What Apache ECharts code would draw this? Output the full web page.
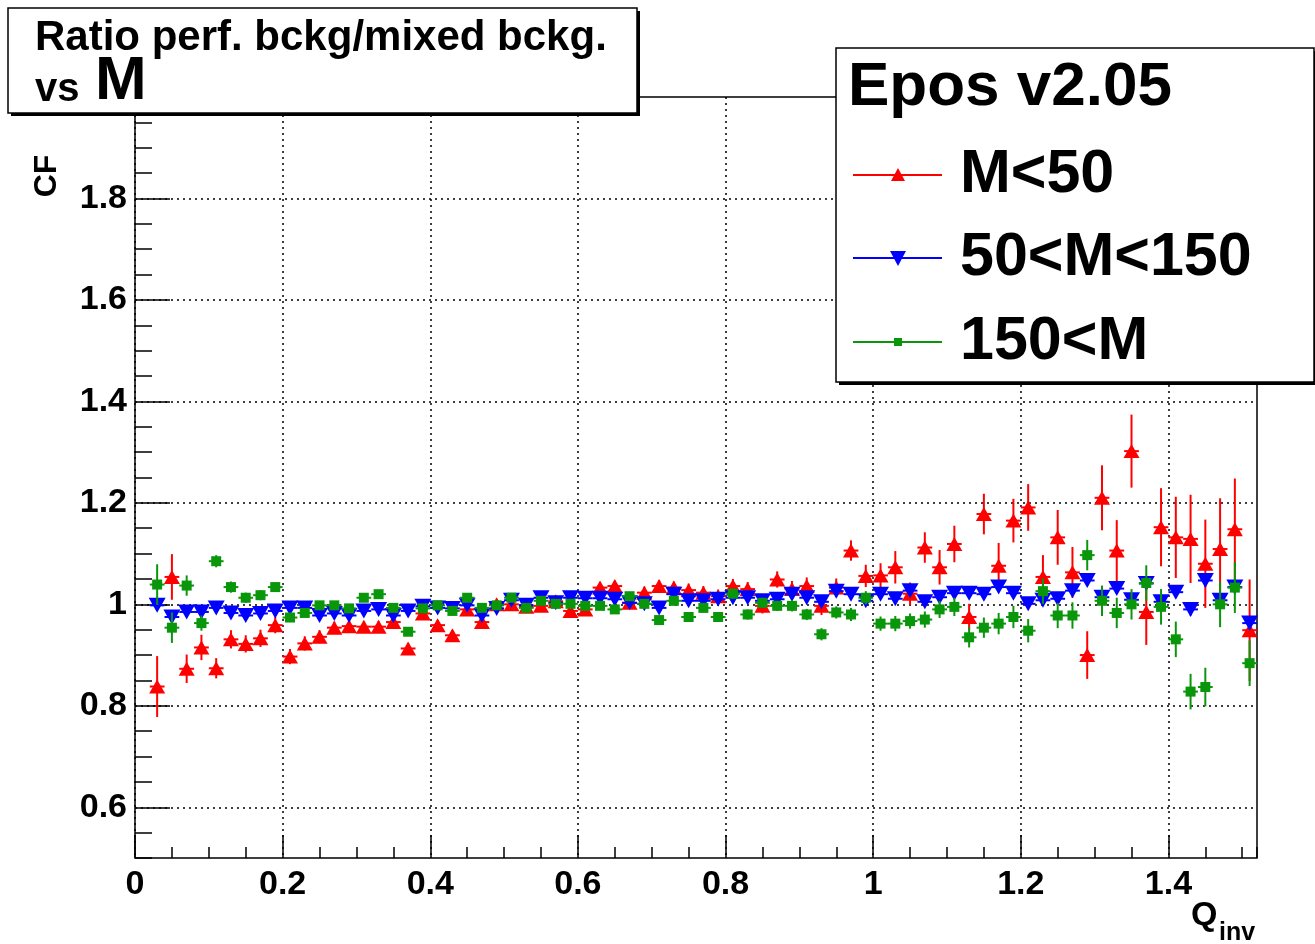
<!DOCTYPE html>
<html><head><meta charset="utf-8">
<script src="https://cdn.jsdelivr.net/npm/echarts@6/dist/echarts.min.js"></script>
<style>html,body{margin:0;padding:0;background:#fff}#c{width:1315px;height:944px}</style>
</head><body><div id="c"></div>
<script>
// ---- data ----
const qinv = [0.03,0.05,0.07,0.09,0.11,0.13,0.15,0.17,0.19,0.21,0.23,0.25,0.27,0.29,0.31,0.33,0.35,0.37,0.39,0.41,0.43,0.45,0.47,0.49,0.51,
  0.53,0.55,0.57,0.59,0.61,0.63,0.65,0.67,0.69,0.71,0.73,0.75,0.77,0.79,0.81,0.83,0.85,0.87,0.89,0.91,0.93,0.95,0.97,0.99,1.01,
  1.03,1.05,1.07,1.09,1.11,1.13,1.15,1.17,1.19,1.21,1.23,1.25,1.27,1.29,1.31,1.33,1.35,1.37,1.39,1.41,1.43,1.45,1.47,1.49,1.51];
const binHalfWidth = 0.01;

const cfLow = [0.838,1.054,0.873,0.915,0.874,0.931,0.922,0.933,0.959,0.897,0.923,0.936,0.954,0.957,0.956,0.956,0.965,0.913,0.982,0.959,0.939,0.990,0.965,1.000,1.000,
  0.995,0.997,1.006,0.987,0.990,1.033,1.036,1.003,1.023,1.036,1.033,1.028,1.023,1.016,1.036,1.030,0.997,1.049,1.030,1.036,0.997,1.033,1.106,1.056,1.057,
  1.073,1.021,1.112,1.073,1.119,0.975,1.178,1.076,1.165,1.191,1.054,1.132,1.063,0.900,1.210,1.106,1.302,0.985,1.152,1.132,1.129,1.080,1.109,1.148,0.949];
const errLow = [0.060,0.045,0.028,0.025,0.020,0.018,0.017,0.017,0.016,0.015,0.014,0.013,0.012,0.012,0.011,0.011,0.010,0.010,0.010,0.010,0.010,0.010,0.010,0.010,0.010,
  0.010,0.010,0.010,0.010,0.010,0.011,0.011,0.011,0.012,0.012,0.012,0.013,0.013,0.013,0.014,0.014,0.015,0.016,0.016,0.017,0.018,0.018,0.020,0.022,0.024,
  0.032,0.022,0.030,0.034,0.036,0.026,0.040,0.045,0.043,0.046,0.043,0.054,0.050,0.047,0.064,0.060,0.072,0.065,0.077,0.080,0.087,0.087,0.100,0.100,0.100];

const cfMid = [0.998,0.975,0.985,0.985,0.993,0.983,0.978,0.982,0.987,0.993,0.993,0.978,0.982,0.978,0.987,0.990,0.978,0.987,0.996,0.993,0.992,0.998,0.978,0.992,1.008,
  0.998,1.013,1.003,1.013,1.012,1.012,1.010,1.003,1.001,0.993,1.020,1.007,1.007,1.010,1.013,1.013,1.007,1.010,1.020,1.013,1.005,1.026,1.020,1.007,1.020,
  1.011,1.027,1.005,1.014,1.022,1.022,1.020,1.034,1.022,1.001,1.008,1.011,1.027,1.047,1.014,1.031,1.009,1.041,1.005,1.024,0.990,1.047,1.008,1.034,0.963];
const errMid = [0.004,0.004,0.004,0.004,0.004,0.004,0.004,0.004,0.004,0.004,0.004,0.004,0.004,0.004,0.004,0.004,0.004,0.004,0.004,0.004,0.004,0.004,0.004,0.004,0.004,
  0.004,0.004,0.004,0.004,0.004,0.004,0.004,0.005,0.005,0.005,0.005,0.005,0.005,0.005,0.005,0.005,0.005,0.006,0.006,0.006,0.006,0.006,0.006,0.006,0.007,
  0.007,0.007,0.007,0.007,0.008,0.008,0.008,0.008,0.008,0.009,0.009,0.009,0.009,0.010,0.010,0.010,0.010,0.011,0.011,0.011,0.012,0.012,0.012,0.013,0.013];

const cfHigh = [1.039,0.954,1.037,0.963,1.085,1.034,1.013,1.018,1.034,0.974,0.983,0.998,0.998,0.992,1.013,1.020,0.993,0.946,0.992,0.998,0.987,1.013,0.993,0.998,1.013,
  0.993,1.007,1.001,1.001,0.997,0.997,0.990,1.016,1.001,0.969,1.007,0.975,0.993,0.975,1.021,0.980,1.003,0.997,0.997,0.980,0.941,0.984,0.980,1.013,0.962,
  0.962,0.967,0.970,0.990,0.995,0.935,0.954,0.962,0.975,0.948,1.026,0.978,0.978,1.097,1.007,0.983,1.000,1.042,0.995,0.931,0.828,0.837,1.000,1.033,0.884];
const errHigh = [0.040,0.030,0.020,0.015,0.012,0.011,0.010,0.010,0.009,0.009,0.008,0.008,0.008,0.008,0.008,0.008,0.008,0.008,0.008,0.008,0.008,0.008,0.008,0.008,0.008,
  0.008,0.008,0.008,0.008,0.008,0.008,0.008,0.008,0.009,0.009,0.009,0.009,0.009,0.009,0.010,0.010,0.010,0.010,0.011,0.011,0.012,0.012,0.013,0.013,0.014,
  0.015,0.015,0.016,0.017,0.018,0.020,0.020,0.021,0.022,0.023,0.025,0.025,0.026,0.030,0.030,0.030,0.030,0.035,0.035,0.035,0.035,0.038,0.045,0.050,0.045];

const xTickValues = [0,0.2,0.4,0.6,0.8,1,1.2,1.4];
const yTickValues = [0.6,0.8,1,1.2,1.4,1.6,1.8];
const seriesNames = ['M<50','50<M<150','150<M'];
const headerText = 'Epos v2.05';
const titleLine1 = 'Ratio perf. bckg/mixed bckg.';

// ---- chart ----
const FONT = "'Liberation Sans', Arial, Helvetica, sans-serif";
const RED = '#ff0000', BLUE = '#0000ff', GREEN = '#0a960a';
const chart = echarts.init(document.getElementById('c'), null, {renderer: 'canvas'});

function errSeries(xs, ys, es, color, z) {
  return {
    type: 'custom', z: z, silent: true, xAxisIndex: 0, yAxisIndex: 0,
    data: xs.map((x, i) => [x, ys[i], es[i]]),
    encode: {x: 0, y: 1},
    renderItem: function (params, api) {
      const x = api.value(0), y = api.value(1), e = api.value(2);
      const t = api.coord([x, y + e]), b = api.coord([x, y - e]);
      const l = api.coord([x - binHalfWidth, y]), r = api.coord([x + binHalfWidth, y]);
      return {type: 'group', children: [
        {type: 'line', shape: {x1: t[0], y1: t[1], x2: b[0], y2: b[1]}, style: {stroke: color, lineWidth: 2}},
        {type: 'line', shape: {x1: l[0], y1: l[1], x2: r[0], y2: r[1]}, style: {stroke: color, lineWidth: 2}}
      ]};
    }
  };
}
function ptSeries(name, xs, ys, color, symbol, size, rot, z) {
  return {
    type: 'scatter', name: name, z: z, silent: true, xAxisIndex: 0, yAxisIndex: 0,
    data: xs.map((x, i) => [x, ys[i]]),
    symbol: symbol, symbolSize: size, symbolRotate: rot,
    itemStyle: {color: color, opacity: 1}
  };
}

const tickStyle = {color: '#000', width: 1.5};
const labelStyle = {fontSize: 34, fontWeight: 'bold', fontFamily: FONT, color: '#000'};
const gridLine = {show: true, lineStyle: {color: '#000', type: [2, 4], width: 1.5}};

const legendRows = [
  {y: 175, color: RED, name: seriesNames[0]},
  {y: 258, color: BLUE, name: seriesNames[1]},
  {y: 342, color: GREEN, name: seriesNames[2]}
];
const gfx = [
  {type: 'rect', z: 100, shape: {x: 11, y: 11, width: 629, height: 105}, style: {fill: '#000'}},
  {type: 'rect', z: 101, shape: {x: 8, y: 8, width: 629, height: 105}, style: {fill: '#fff', stroke: '#000', lineWidth: 1.5}},
  {type: 'text', z: 102, x: 35, y: 38, style: {text: titleLine1, font: 'bold 42px ' + FONT, fill: '#000', textVerticalAlign: 'middle'}},
  {type: 'text', z: 102, x: 35, y: 90, style: {text: 'vs', font: 'bold 40px ' + FONT, fill: '#000', textVerticalAlign: 'middle'}},
  {type: 'text', z: 102, x: 95, y: 82, style: {text: 'M', font: 'bold 62px ' + FONT, fill: '#000', textVerticalAlign: 'middle'}},
  {type: 'rect', z: 100, shape: {x: 839, y: 51, width: 478, height: 334}, style: {fill: '#000'}},
  {type: 'rect', z: 101, shape: {x: 836, y: 48, width: 478, height: 334}, style: {fill: '#fff', stroke: '#000', lineWidth: 1.5}},
  {type: 'text', z: 102, x: 848, y: 88, style: {text: headerText, font: 'bold 62px ' + FONT, fill: '#000', textVerticalAlign: 'middle'}},
  {type: 'text', z: 102, rotation: Math.PI / 2, x: 47, y: 176, style: {text: 'CF', font: 'bold 32px ' + FONT, fill: '#000', textAlign: 'center', textVerticalAlign: 'middle'}},
  {type: 'text', z: 102, x: 1191, y: 916, style: {text: 'Q', font: 'bold 34px ' + FONT, fill: '#000', textVerticalAlign: 'middle'}},
  {type: 'text', z: 102, x: 1219, y: 933, style: {text: 'inv', font: 'bold 25px ' + FONT, fill: '#000', textVerticalAlign: 'middle'}}
];
legendRows.forEach((r, k) => {
  gfx.push({type: 'line', z: 102, shape: {x1: 853, y1: r.y, x2: 942, y2: r.y}, style: {stroke: r.color, lineWidth: 2}});
  let m;
  if (k === 0) m = {type: 'polygon', shape: {points: [[898, r.y - 7], [905, r.y + 6], [891, r.y + 6]]}};
  else if (k === 1) m = {type: 'polygon', shape: {points: [[890, r.y - 7], [906, r.y - 7], [898, r.y + 8]]}};
  else m = {type: 'rect', shape: {x: 894, y: r.y - 4, width: 8, height: 8}};
  m.z = 103; m.style = {fill: r.color};
  gfx.push(m);
  gfx.push({type: 'text', z: 102, x: 960, y: r.y, style: {text: r.name, font: 'bold 61px ' + FONT, fill: '#000', textVerticalAlign: 'middle'}});
});

chart.setOption({
  animation: false,
  backgroundColor: '#fff',
  grid: {left: 135, top: 97, right: 58, bottom: 86, show: true, borderColor: '#000', borderWidth: 1.5, backgroundColor: 'transparent', containLabel: false, outerBoundsMode: 'none'},
  xAxis: [
    {type: 'value', min: 0, max: 1.52, position: 'bottom',
     axisLine: {show: false},
     axisTick: {show: true, inside: true, length: 23, customValues: xTickValues, lineStyle: tickStyle},
     axisLabel: Object.assign({customValues: xTickValues, margin: 10}, labelStyle),
     splitLine: gridLine},
    {type: 'value', min: 0, max: 1.52, interval: 0.05, position: 'bottom', offset: 0,
     axisLine: {show: false},
     axisTick: {show: true, inside: true, length: 11, lineStyle: tickStyle},
     axisLabel: {show: false}, splitLine: {show: false}}
  ],
  yAxis: [
    {type: 'value', min: 0.5, max: 2.0, position: 'left',
     axisLine: {show: false},
     axisTick: {show: true, inside: true, length: 35, customValues: yTickValues, lineStyle: tickStyle},
     axisLabel: Object.assign({customValues: yTickValues, margin: 8}, labelStyle),
     splitLine: gridLine},
    {type: 'value', min: 0.5, max: 2.0, interval: 0.05, position: 'left', offset: 0,
     axisLine: {show: false},
     axisTick: {show: true, inside: true, length: 17, lineStyle: tickStyle},
     axisLabel: {show: false}, splitLine: {show: false}}
  ],
  series: [
    errSeries(qinv, cfLow, errLow, RED, 2),
    ptSeries(seriesNames[0], qinv, cfLow, RED, 'triangle', [16, 14], 0, 3),
    errSeries(qinv, cfMid, errMid, BLUE, 4),
    ptSeries(seriesNames[1], qinv, cfMid, BLUE, 'triangle', [17, 15], 180, 5),
    errSeries(qinv, cfHigh, errHigh, GREEN, 6),
    ptSeries(seriesNames[2], qinv, cfHigh, GREEN, 'rect', 10, 0, 7)
  ],
  graphic: gfx
});
</script>
</body></html>
